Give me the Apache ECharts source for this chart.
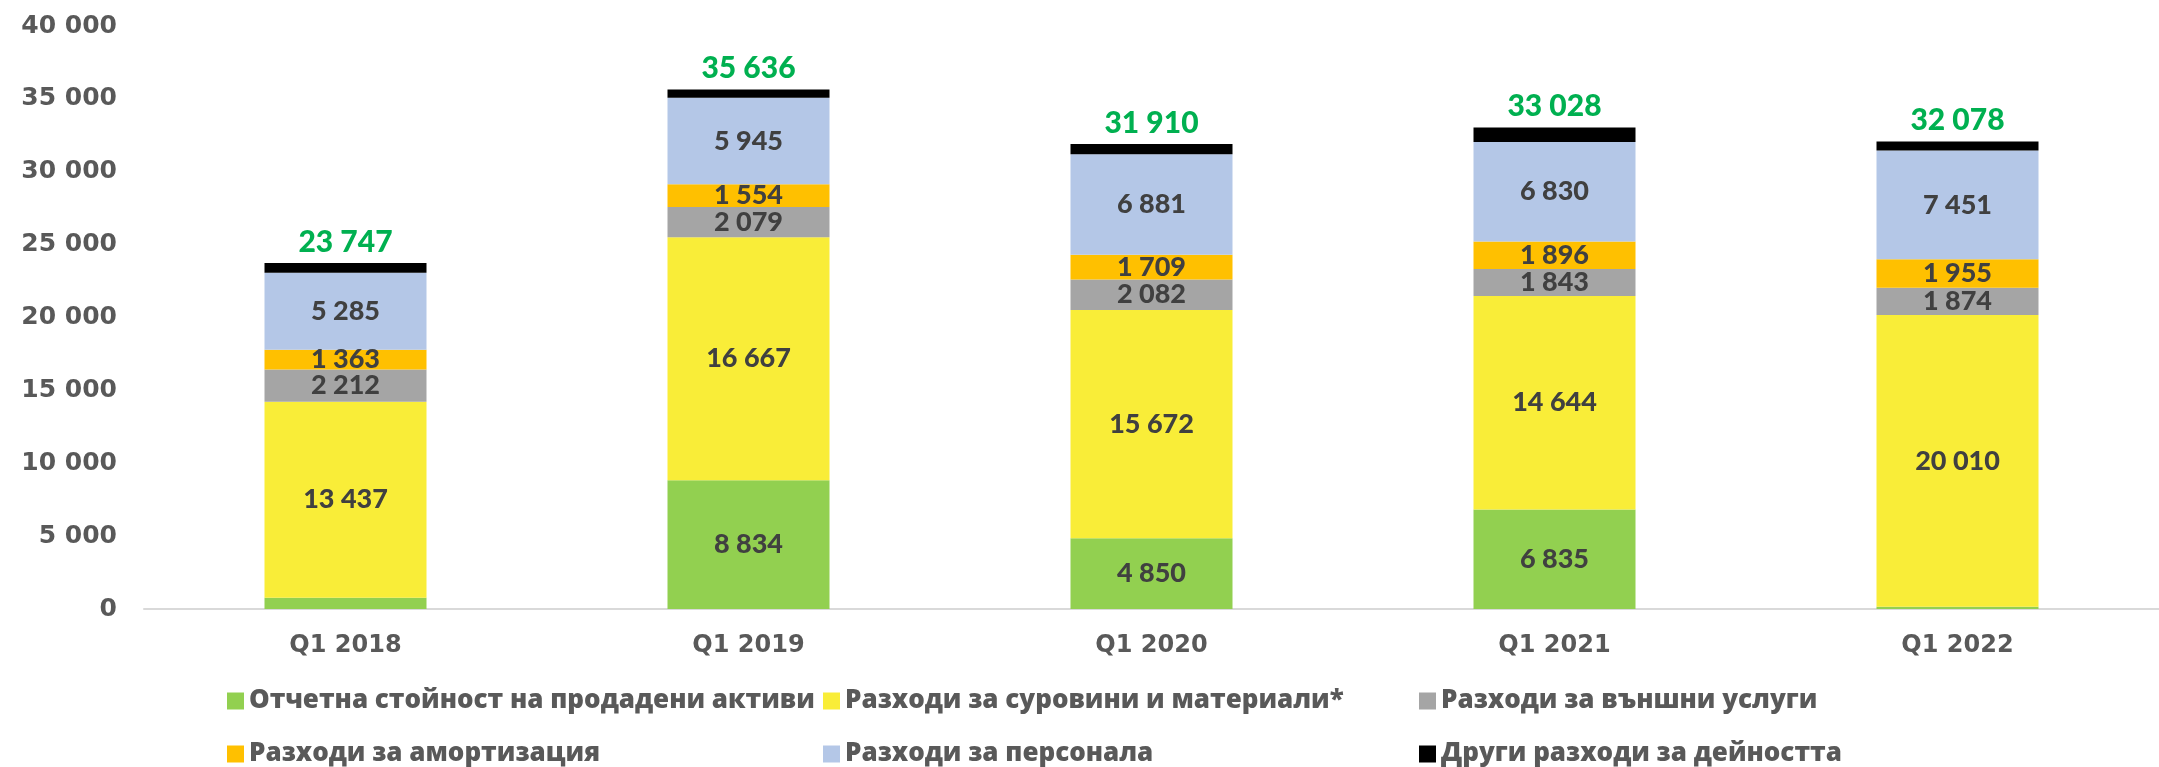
<!DOCTYPE html>
<html>
<head>
<meta charset="utf-8">
<script src="https://cdn.jsdelivr.net/npm/echarts@6/dist/echarts.min.js"></script>
<style>
  html, body { margin: 0; padding: 0; background: #fff; }
  #chart { width: 2159px; height: 767px; }
</style>
</head>
<body>
<div id="chart"></div>
<script>
// данни
const categories = ["Q1 2018", "Q1 2019", "Q1 2020", "Q1 2021", "Q1 2022"];
const soldAssets = [775, 8834, 4850, 6835, 160];
const materials = [13437, 16667, 15672, 14644, 20010];
const services = [2212, 2079, 2082, 1843, 1874];
const amortization = [1363, 1554, 1709, 1896, 1955];
const personnel = [5285, 5945, 6881, 6830, 7451];
const otherCosts = [675, 557, 716, 980, 628];
const totals = [23747, 35636, 31910, 33028, 32078];
const yTicks = [0, 5000, 10000, 15000, 20000, 25000, 30000, 35000, 40000];

const names = [
  "Отчетна стойност на продадени активи",
  "Разходи за суровини и материали*",
  "Разходи за външни услуги",
  "Разходи за амортизация",
  "Разходи за персонала",
  "Други разходи за дейността",
];
const colors = ["#92D050", "#F9ED38", "#A5A5A5", "#FFC000", "#B4C7E7", "#000000"];

const fmt = (n) => String(n).replace(/\B(?=(\d{3})+(?!\d))/g, " ");

const segLabel = {
  show: true,
  position: "inside",
  color: "#404040",
  fontFamily: "Lato",
  fontWeight: 900,
  fontSize: 27,
  formatter: (p) => (p.value < 1000 ? "" : fmt(p.value)),
};

function barSeries(i, data, label) {
  return {
    name: names[i],
    type: "bar",
    stack: "total",
    barWidth: 162,
    itemStyle: { color: colors[i] },
    label: label,
    emphasis: { disabled: true },
    data: data,
  };
}

// легенда: по една за всеки елемент, за да се подредят в колони
const legendPos = [
  [227, 688], [823, 688], [1419, 688],
  [227, 741], [823, 741], [1419, 741],
];
const legends = legendPos.map((p, i) => ({
  data: [names[i]],
  left: p[0],
  top: p[1],
  padding: 0,
  icon: "rect",
  itemWidth: 17,
  itemHeight: 17,
  textStyle: {
    color: "#595959",
    fontFamily: "Open Sans",
    fontWeight: 800,
    fontSize: 26,
  },
}));

const chart = echarts.init(document.getElementById("chart"));
chart.setOption({
  animation: false,
  backgroundColor: "#fff",
  grid: { left: 144, top: 26, width: 2030, height: 583 },
  legend: legends,
  xAxis: {
    type: "category",
    data: categories,
    axisLine: { lineStyle: { color: "#D9D9D9", width: 2 } },
    axisTick: { show: false },
    axisLabel: {
      margin: 25,
      color: "#595959",
      fontFamily: "DejaVu Sans",
      fontWeight: "bold",
      fontSize: 24,
    },
  },
  yAxis: {
    type: "value",
    min: yTicks[0],
    max: yTicks[yTicks.length - 1],
    interval: 5000,
    splitLine: { show: false },
    axisLine: { show: false },
    axisTick: { show: false },
    axisLabel: {
      margin: 27,
      color: "#595959",
      fontFamily: "DejaVu Sans",
      fontWeight: "bold",
      fontSize: 25,
      formatter: (v) => fmt(v),
    },
  },
  series: [
    barSeries(0, soldAssets, segLabel),
    barSeries(1, materials, segLabel),
    barSeries(2, services, segLabel),
    barSeries(3, amortization, segLabel),
    barSeries(4, personnel, segLabel),
    barSeries(5, otherCosts, {
      show: true,
      position: "top",
      distance: 6,
      color: "#00B050",
      fontFamily: "Lato",
      fontWeight: 900,
      fontSize: 30,
      formatter: (p) => fmt(totals[p.dataIndex]),
    }),
  ],
});
</script>
</body>
</html>
